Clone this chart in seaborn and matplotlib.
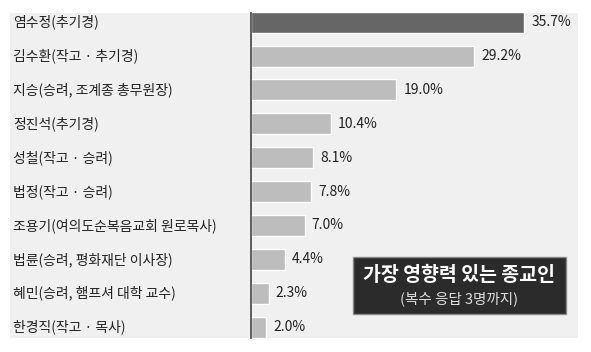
import matplotlib
matplotlib.use("Agg")
import matplotlib.pyplot as plt
import seaborn as sns
import pandas as pd
from matplotlib.patches import Rectangle
import matplotlib.transforms as mtransforms

names = ["염수정(추기경)", "김수환(작고 · 추기경)", "지승(승려, 조계종 총무원장)", "정진석(추기경)",
         "성철(작고 · 승려)", "법정(작고 · 승려)", "조용기(여의도순복음교회 원로목사)",
         "법륜(승려, 평화재단 이사장)", "혜민(승려, 햄프셔 대학 교수)", "한경직(작고 · 목사)"]
values = [35.7, 29.2, 19.0, 10.4, 8.1, 7.8, 7.0, 4.4, 2.3, 2.0]
title = "가장 영향력 있는 종교인"
subtitle = "(복수 응답 3명까지)"

sns.set_theme(style="white")
plt.rcParams['font.family'] = ['Noto Sans CJK KR', 'DejaVu Sans']

W, H = 591, 352
fig = plt.figure(figsize=(W / 100, H / 100), dpi=100)
fig.patch.set_facecolor("white")

# panel background
fig.patches.append(Rectangle((10 / W, 1 - 338 / H), (578 - 10) / W, (338 - 13) / H,
                             transform=fig.transFigure, facecolor="#f0f0f0", edgecolor="none", zorder=-5))

ax = fig.add_axes([251 / W, 1 - 338 / H, (578 - 251) / W, (338 - 13) / H])
ax.set_facecolor("none")
ax.set_zorder(1)
df = pd.DataFrame({"name": names, "value": values})
colors = ["#666666"] + ["#bdbdbd"] * (len(names) - 1)
sns.barplot(data=df, y="name", x="value", hue="name", palette=colors, legend=False,
            orient="h", width=0.62, ax=ax, saturation=1)
ax.set_xlim(0, (578 - 251) / 7.65)
ax.set_ylim(9.32, -0.27)
ax.set_xlabel("")
ax.set_ylabel("")
ax.set_xticks([])
ax.set_yticklabels([])
ax.tick_params(left=False)
for s in ["top", "right", "bottom"]:
    ax.spines[s].set_visible(False)
ax.spines["left"].set_color("#444444")
ax.spines["left"].set_linewidth(1.2)

trans = mtransforms.blended_transform_factory(fig.transFigure, ax.transData)
for i, (n, v) in enumerate(zip(names, values)):
    ax.text(13 / W, i, n, transform=trans, ha="left", va="center", fontsize=10, color="#222222",
            clip_on=False)
    ax.text(v + 0.95, i, f"{v:.1f}%", ha="left", va="center", fontsize=10, color="#222222")

# legend box
fig.patches.append(Rectangle((353 / W, 1 - 314 / H), (566 - 353) / W, (314 - 257) / H,
                             transform=fig.transFigure, facecolor="#2b2b2b", edgecolor="#888888",
                             linewidth=1, zorder=5))
fig.text(459 / W, 1 - 275 / H, title, ha="center", va="center", fontsize=14, color="white",
         fontweight="bold", zorder=6)
fig.text(459 / W, 1 - 299 / H, subtitle, ha="center", va="center", fontsize=10.5, color="#dddddd", zorder=6)

fig.savefig("out.png", dpi=100, facecolor="white")
